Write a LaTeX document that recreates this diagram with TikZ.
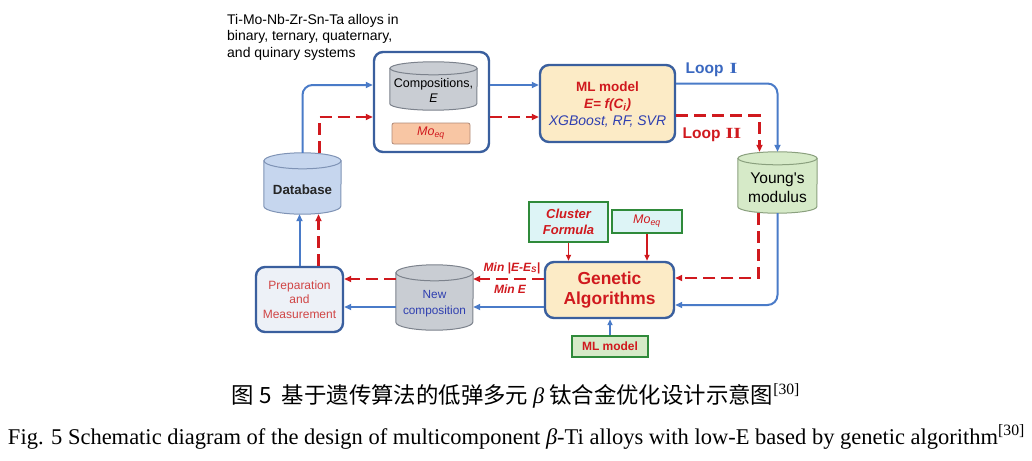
\documentclass[tikz,border=0pt]{standalone}
\usepackage{fontspec}
\setmainfont{Liberation Sans}
\newfontfamily\cjk{Noto Sans CJK SC}
\newfontfamily\tnr{Liberation Serif}
\usetikzlibrary{arrows.meta,calc}
\definecolor{lblue}{HTML}{4A7BC8}
\definecolor{dred}{HTML}{D0191E}
\definecolor{bborder}{HTML}{3A5F9E}
\definecolor{beige}{HTML}{FCEBC6}
\definecolor{gborder}{HTML}{2F8A3A}
\definecolor{cyanf}{HTML}{DDF4F6}
\definecolor{lgreen}{HTML}{D6EAC8}
\definecolor{grayf}{HTML}{C9CDD3}
\definecolor{grayb}{HTML}{7C828C}
\definecolor{dbf}{HTML}{C6D6EE}
\definecolor{dbb}{HTML}{7F93B5}
\definecolor{ygb}{HTML}{8AA07E}
\definecolor{orangef}{HTML}{F8C6A4}
\definecolor{orangeb}{HTML}{B08A78}
\definecolor{prepf}{HTML}{EDF1F7}
\definecolor{bluetext}{HTML}{2F3FB0}
\definecolor{preptext}{HTML}{D04545}
\definecolor{loopblue}{HTML}{3A68C0}
\newcommand\cylnode[9]{%
  \node[minimum width=#3pt, minimum height=#4pt, inner sep=0pt] (#1) at #2 {};
  \path[draw=#7, fill=#6, line width=1pt]
    ([yshift=-#5pt]#1.north west) -- ([yshift=#5pt]#1.south west)
    arc[start angle=180, end angle=360, x radius=#3pt/2, y radius=#5pt]
    -- ([yshift=-#5pt]#1.north east) -- cycle;
  \path[draw=#7, fill=#6, line width=1pt]
    ([yshift=-#5pt]#1.north) ellipse[x radius=#3pt/2, y radius=#5pt];
  \node[#8] at ([yshift=-0.75*#5pt]#1.center) {#9};
}
\begin{document}
\begin{tikzpicture}[x=1pt,y=-1pt,
  txt/.style={font=\fontsize{12.5}{15}\selectfont, align=center, inner sep=0pt},
  rbox/.style={draw=bborder, line width=2.4pt, rounded corners=9pt, inner sep=0pt},
  sbox/.style={draw=gborder, line width=1.6pt, inner sep=0pt, align=center},
  blueline/.style={draw=lblue, line width=2pt, rounded corners=10pt, -{Triangle[length=7pt,width=6pt]}},
  redline/.style={draw=dred, line width=2.4pt, dash pattern=on 12pt off 6pt, -{Triangle[length=7pt,width=6pt]}},
  redsolid/.style={draw=dred, line width=1.5pt, -{Triangle[length=6pt,width=5pt]}},
  bluethin/.style={draw=lblue, line width=1.5pt, -{Triangle[length=6pt,width=5pt]}},
  looplab/.style={font=\fontsize{15.5}{17}\selectfont\bfseries, inner sep=0pt},
  minlab/.style={font=\fontsize{12}{14}\selectfont\bfseries\itshape, text=dred, inner sep=0pt}
]
\useasboundingbox (0,0) rectangle (1032,460);

% top-left description
\node[anchor=north west, align=left, inner sep=0pt, font=\fontsize{14}{16.5}\selectfont] (desc) at (227,14)
  {Ti-Mo-Nb-Zr-Sn-Ta alloys in\\binary, ternary, quaternary,\\and quinary systems};

% composition group
\node[rbox, minimum width=115pt, minimum height=100pt] (comp) at (431.5,102) {};
\cylnode{cmp}{(433.5,86)}{87}{48}{6.5}{grayf}{grayb}{txt}{Compositions,\\\textit{E}}
\node[draw=orangeb, fill=orangef, line width=0.8pt, rounded corners=2pt, minimum width=78pt, minimum height=21pt, inner sep=0pt,
  font=\fontsize{12.5}{14}\selectfont, text=dred] (moeqa) at (431,133.5) {\textit{Mo}\textsubscript{\textit{eq}}};

% ML model
\node[rbox, fill=beige, minimum width=135pt, minimum height=77pt] (ml) at (607.5,103.5) {};
\node[txt, font=\fontsize{13.5}{17.5}\selectfont\bfseries, text=dred] (mlt1) at (607.5,87) {ML model};
\node[txt, font=\fontsize{13.5}{17.5}\selectfont\bfseries\itshape, text=dred] (mlt2) at (607.5,105) {E= f(C\textsubscript{i})};
\node[txt, font=\fontsize{14}{17.5}\selectfont\itshape, text=bluetext] (mlt3) at (607.5,122) {XGBoost, RF, SVR};

% Young's modulus
\cylnode{young}{(777.5,182.5)}{79}{61}{6.5}{lgreen}{ygb}{txt, font=\fontsize{15.5}{19}\selectfont}{Young\textquotesingle s\\modulus}

% Database
\cylnode{db}{(302.5,183.5)}{77}{61}{8}{dbf}{dbb}{txt, font=\fontsize{13.3}{15}\selectfont\bfseries, text=black!85}{Database}

% Genetic algorithms
\node[rbox, fill=beige, minimum width=129pt, minimum height=56pt, font=\fontsize{17.4}{20}\selectfont\bfseries, text=dred, align=center] (ga) at (609.5,290) {Genetic\\Algorithms};

% cluster formula, Mo_eq, ML model small
\node[sbox, fill=cyanf, minimum width=79pt, minimum height=40pt, font=\fontsize{13}{15.5}\selectfont\bfseries\itshape, text=dred] (cluster) at (568.5,222) {Cluster\\Formula};
\node[sbox, fill=cyanf, minimum width=70pt, minimum height=23pt, font=\fontsize{12.5}{14}\selectfont, text=dred] (moeqb) at (647,221.5) {\textit{Mo}\textsubscript{\textit{eq}}};
\node[sbox, fill=lgreen, minimum width=76pt, minimum height=21pt, font=\fontsize{12}{14}\selectfont\bfseries, text=dred] (mls) at (610,346.5) {ML model};

% New composition
\cylnode{newc}{(434.5,297.5)}{77}{65}{8}{grayf}{grayb}{txt, font=\fontsize{11.8}{16}\selectfont, text=bluetext}{New\\composition}

% Preparation
\node[rbox, fill=prepf, minimum width=87pt, minimum height=65pt, font=\fontsize{12}{14.5}\selectfont, text=preptext, align=center] (prep) at (299.5,299.5) {Preparation\\and\\Measurement};

% connectors
\draw[blueline] (db.north) |- ([yshift=17pt]comp.west);
\draw[redline] ([xshift=17pt]db.north) |- ([yshift=-15pt]comp.west);
\draw[blueline] ([yshift=17pt]comp.east) -- ([yshift=17pt]comp.east -| ml.west);
\draw[redline] ([yshift=-15pt]comp.east) -- ([yshift=-15pt]comp.east -| ml.west);

\draw[blueline] ([yshift=20pt]ml.east) -| (young.north);
\draw[redline] ([yshift=-12pt]ml.east) -| ([xshift=-18pt]young.north);
\node[looplab, text=loopblue] (l1) at (711.5,70) {Loop\hspace{6pt}{\tnr\scalebox{1.3}[1]{I}}};
\node[looplab, text=dred] (l2) at (712,135) {Loop\hspace{5pt}{\tnr\scalebox{1.3}[1]{II}}};

\draw[blueline] (young.south) |- ([yshift=-15pt]ga.east);
\draw[redline] ([xshift=-19pt]young.south) |- ([yshift=12pt]ga.east);

\draw[redsolid] (cluster.south) -- (cluster.south |- ga.north);
\draw[redsolid] (moeqb.south) -- (moeqb.south |- ga.north);
\draw[bluethin] (mls.north) -- (mls.north |- ga.south);

\draw[redline] ([yshift=11pt]ga.west) -- ([yshift=11pt]ga.west -| newc.east);
\draw[blueline] ([yshift=-17pt]ga.west) -- ([yshift=-17pt]ga.west -| newc.east);
\node[minlab] (m1) at (512,268) {Min |E-E\textsubscript{S}|};
\node[minlab] (m2) at (510,289) {Min E};

\draw[redline] ([yshift=18.5pt]newc.west) -- ([yshift=18.5pt]newc.west -| prep.east);
\draw[blueline] ([yshift=-9.5pt]newc.west) -- ([yshift=-9.5pt]newc.west -| prep.east);

\draw[blueline] (prep.north) -- (prep.north |- db.south);
\draw[redline] ([xshift=19pt]prep.north) -- ([xshift=19pt]prep.north |- db.south);

% captions
\node[inner sep=0pt] (cap1) at (516,396) {\resizebox{568pt}{!}{\fontsize{20}{24}\selectfont\cjk 图 5\ \ 基于遗传算法的低弹多元 {\tnr\itshape β} 钛合金优化设计示意图\textsuperscript{\tnr[30]}}};
\node[inner sep=0pt] (cap2) at (516.5,437) {\resizebox{1017pt}{!}{\fontsize{20}{24}\selectfont\tnr Fig. 5 Schematic diagram of the design of multicomponent \textit{β}-Ti alloys with low-E based by genetic algorithm\textsuperscript{[30]}}};
\end{tikzpicture}
\end{document}
